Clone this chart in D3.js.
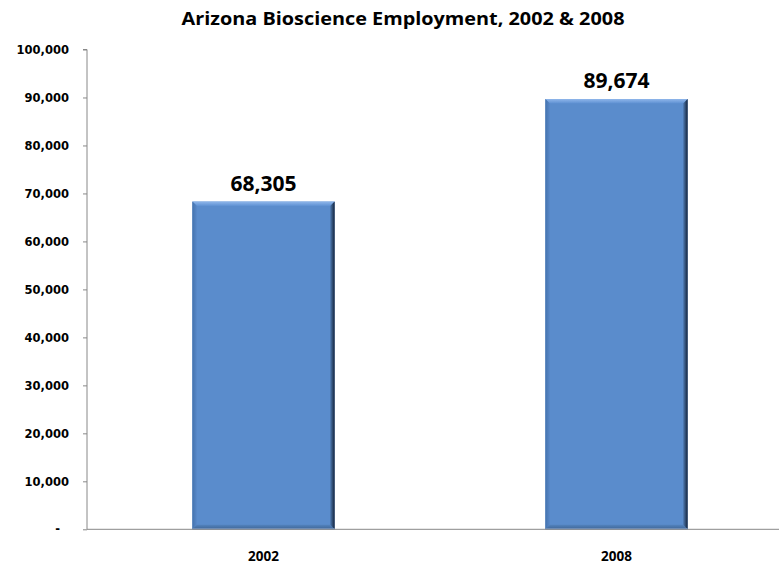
<!DOCTYPE html>
<html><head><meta charset="utf-8">
<script src="https://cdn.jsdelivr.net/npm/d3@7/dist/d3.min.js"></script>
<style>body{margin:0;background:#fff}</style>
</head><body>
<svg id="c" width="779" height="566"></svg>
<script>
const categories = ["2002", "2008"];
const values = [68305, 89674];
const valueLabels = ["68,305", "89,674"];
const yTicks = [0, 10000, 20000, 30000, 40000, 50000, 60000, 70000, 80000, 90000, 100000];
const yTickLabels = ["-", "10,000", "20,000", "30,000", "40,000", "50,000", "60,000", "70,000", "80,000", "90,000", "100,000"];
const title = "Arizona Bioscience Employment, 2002 & 2008";

const svg = d3.select("#c");
const x0 = 87, x1 = 793, yTop = 49.5, yBot = 529.3;
const y = d3.scaleLinear().domain([0, 100000]).range([yBot, yTop]);
const x = d3.scaleBand().domain(categories).range([x0, x1]).padding(0);
const bw = x.bandwidth() * 0.403;

const defs = svg.append("defs");
const g1 = defs.append("linearGradient").attr("id","rgrad").attr("x1",0).attr("x2",1).attr("y1",0).attr("y2",0);
g1.append("stop").attr("offset","0%").attr("stop-color","#4f7bb3");
g1.append("stop").attr("offset","100%").attr("stop-color","#14233a");
const g2 = defs.append("linearGradient").attr("id","tgrad").attr("x1",0).attr("x2",0).attr("y1",0).attr("y2",1);
g2.append("stop").attr("offset","0%").attr("stop-color","#8fb6ea");
g2.append("stop").attr("offset","100%").attr("stop-color","#5d90d2");
const g3 = defs.append("linearGradient").attr("id","bgrad").attr("x1",0).attr("x2",0).attr("y1",0).attr("y2",1);
g3.append("stop").attr("offset","0%").attr("stop-color","#5282bd");
g3.append("stop").attr("offset","100%").attr("stop-color","#3f6696");
const g4 = defs.append("linearGradient").attr("id","lgrad").attr("x1",0).attr("x2",1).attr("y1",0).attr("y2",0);
g4.append("stop").attr("offset","0%").attr("stop-color","#4473ae");
g4.append("stop").attr("offset","100%").attr("stop-color","#5888c8");

// title
svg.append("text").attr("x", 403).attr("y", 25).attr("text-anchor","middle")
  .attr("font-family","Open Sans, sans-serif").attr("font-weight","bold").attr("font-size",17.5)
  .attr("textLength",443).attr("lengthAdjust","spacingAndGlyphs")
  .attr("fill","#000").text(title);

// y axis
const axis = d3.axisLeft(y).tickValues(yTicks).tickSize(4).tickFormat((d,i)=>yTickLabels[i]);
const ag = svg.append("g").attr("transform",`translate(${x0},0)`).call(axis);
ag.select(".domain").attr("stroke","#888").attr("d",`M-4,${yTop}H0V${yBot}`);
ag.selectAll(".tick line").attr("stroke","#888");
ag.selectAll(".tick text").attr("x",d=>d===0?-27:-18).attr("font-family","DejaVu Sans, sans-serif")
  .attr("font-weight","bold").attr("font-size",11.5).attr("fill","#000");

// bars
const bars = svg.append("g");
categories.forEach((c,i)=>{
  const cx = x(c) + x.bandwidth()/2;
  const L = cx - bw/2, R = cx + bw/2, T = y(values[i]), B = y(0);
  const e = 4.5;
  const g = bars.append("g");
  g.append("rect").attr("x",L).attr("y",T).attr("width",bw).attr("height",B-T).attr("fill","#5a8ccc");
  g.append("path").attr("d",`M${L},${T}H${R}L${R-e},${T+e}H${L+e}Z`).attr("fill","url(#tgrad)");
  g.append("path").attr("d",`M${L},${T}L${L+e},${T+e}V${B-e}L${L},${B}Z`).attr("fill","url(#lgrad)");
  g.append("path").attr("d",`M${L},${B}L${L+e},${B-e}H${R-e}L${R},${B}Z`).attr("fill","url(#bgrad)");
  g.append("path").attr("d",`M${R},${T}L${R-e},${T+e}V${B-e}L${R},${B}Z`).attr("fill","url(#rgrad)");
  g.append("rect").attr("x",L).attr("y",B-1.2).attr("width",bw).attr("height",1.2).attr("fill","#6f93c4");
  svg.append("text").attr("x",cx).attr("y",T-11).attr("text-anchor","middle")
    .attr("font-family","Open Sans, sans-serif").attr("font-weight","bold").attr("font-size",21)
    .attr("fill","#000").text(valueLabels[i]);
});

// x axis baseline
svg.append("line").attr("x1",x0).attr("x2",779).attr("y1",yBot).attr("y2",yBot).attr("stroke","#888").attr("stroke-width",1);
svg.append("g").selectAll("text").data(categories).join("text")
  .attr("x",d=>x(d)+x.bandwidth()/2).attr("y",561).attr("text-anchor","middle")
  .attr("font-family","Open Sans, sans-serif").attr("font-weight","bold").attr("font-size",13.5)
  .attr("fill","#000").text(d=>d);
</script>
</body></html>
